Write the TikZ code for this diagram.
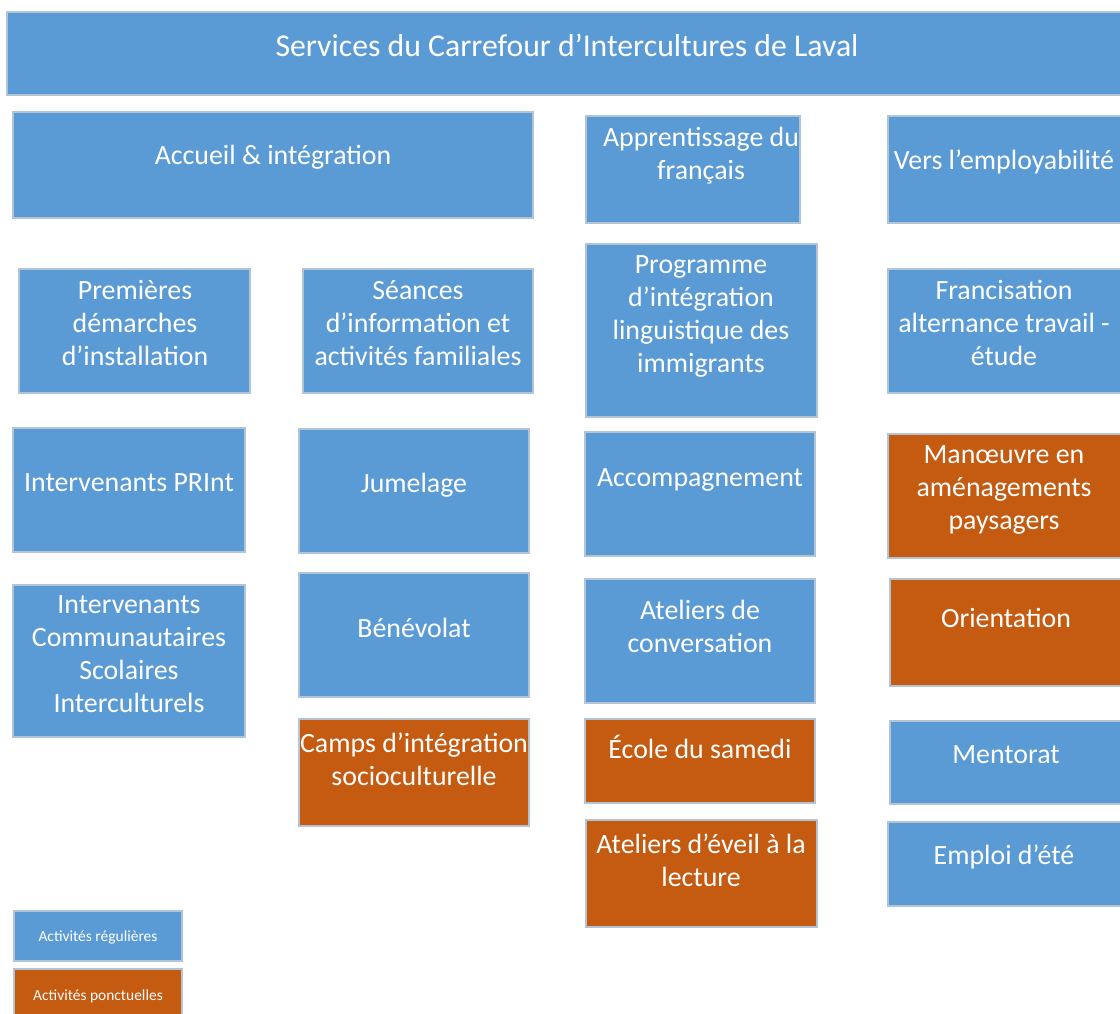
\documentclass[tikz,border=0pt]{standalone}
\usepackage{fontspec}
\setmainfont{Carlito}
\definecolor{regblue}{RGB}{91,155,213}
\definecolor{pontorange}{RGB}{197,90,17}
\definecolor{boxline}{RGB}{178,196,214}
\tikzset{
  regular/.style={fill=regblue, draw=boxline, line width=0.8pt},
  ponctuel/.style={fill=pontorange, draw=boxline, line width=0.8pt},
  lbl/.style={text=white, align=center, font=\fontsize{20.9}{24.75}\selectfont, inner sep=0pt, yshift=-1.5pt},
  legendlbl/.style={text=white, align=center, font=\fontsize{11.6}{13}\selectfont, inner sep=0pt}
}
\begin{document}
\begin{tikzpicture}[x=0.75pt, y=-0.75pt]

        \useasboundingbox (0,0) rectangle (1120,1013);

        \draw[regular] (7,12) rectangle (1124,95);
        \node[lbl, font=\fontsize{23.8}{28}\selectfont] (titre) at (567,43) {Services du Carrefour d’Intercultures de Laval};

        % colonne accueil
        \draw[regular] (13,112) rectangle (533,218);
        \node[lbl] (accueil) at (273,155) {Accueil \& intégration};

        \draw[regular] (19,269) rectangle (250,393);
        \node[lbl] (demarches) at (135,321) {Premières\\démarches\\d’installation};

        \draw[regular] (303,269) rectangle (533,393);
        \node[lbl] (seances) at (418,321) {Séances\\d’information et\\activités familiales};

        \draw[regular] (13,428) rectangle (245,552);
        \node[lbl] (print) at (129,481) {Intervenants PRInt};

        \draw[regular] (299,429) rectangle (529,553);
        \node[lbl] (jumelage) at (414,483) {Jumelage};

        \draw[regular] (13,585) rectangle (245,737);
        \node[lbl] (icsi) at (129,652) {Intervenants\\Communautaires\\Scolaires\\Interculturels};

        \draw[regular] (299,573) rectangle (529,697);
        \node[lbl] (benevolat) at (414,626) {Bénévolat};

        \draw[ponctuel] (299,719) rectangle (529,826);
        \node[lbl] (camps) at (414,757) {Camps d’intégration\\socioculturelle};

        % colonne francais
        \draw[regular] (586,116) rectangle (800,223);
        \node[lbl] (francais) at (701,154) {Apprentissage du\\français};

        \draw[regular] (586,244) rectangle (817,417);
        \node[lbl] (pili) at (701,314) {Programme\\d’intégration\\linguistique des\\immigrants};

        \draw[regular] (585,432) rectangle (815,556);
        \node[lbl] (accomp) at (700,478) {Accompagnement};

        \draw[regular] (585,579) rectangle (815,703);
        \node[lbl] (conversation) at (700,624) {Ateliers de\\conversation};

        \draw[ponctuel] (585,719) rectangle (815,803);
        \node[lbl] (samedi) at (700,745) {École du samedi};

        \draw[ponctuel] (586,820) rectangle (817,927);
        \node[lbl] (lecture) at (701,858) {Ateliers d’éveil à la\\lecture};

        % colonne emploi
        \draw[regular] (888,116) rectangle (1124,223);
        \node[lbl] (emploi) at (1004,160) {Vers l’employabilité};

        \draw[regular] (888,269) rectangle (1124,393);
        \node[lbl] (francisation) at (1004,321) {Francisation\\alternance travail -\\étude};

        \draw[ponctuel] (888,434) rectangle (1124,558);
        \node[lbl] (manoeuvre) at (1004,488) {Manœuvre en\\aménagements\\paysagers};

        \draw[ponctuel] (890,579) rectangle (1124,686);
        \node[lbl] (orientation) at (1006,616) {Orientation};

        \draw[regular] (890,721) rectangle (1124,804);
        \node[lbl] (mentorat) at (1006,753) {Mentorat};

        \draw[regular] (888,822) rectangle (1124,906);
        \node[lbl] (ete) at (1004,855) {Emploi d’été};

        % #######################################

        \draw[regular] (14,911) rectangle (182,961);
        \node[legendlbl] (reg) at (98,937) {Activités régulières};

        \draw[ponctuel] (14,969) rectangle (182,1020);
        \node[legendlbl] (ponct) at (98,996) {Activités ponctuelles};

    \end{tikzpicture}
\end{document}
